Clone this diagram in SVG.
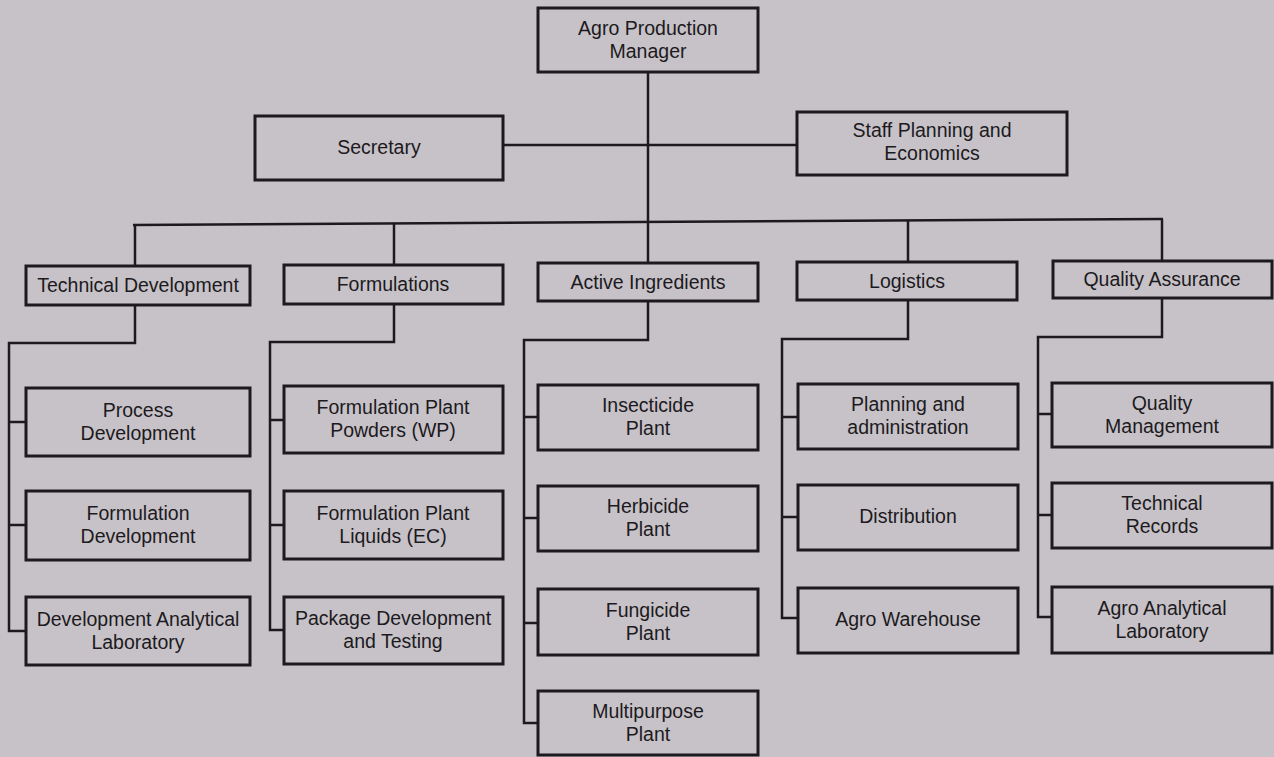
<svg xmlns="http://www.w3.org/2000/svg" width="1274" height="757" viewBox="0 0 1274 757">
<style>
.bg{fill:#c7c2c8}
.box{fill:none;stroke:#1c1a1d;stroke-width:3}
.ln{fill:none;stroke:#1c1a1d;stroke-width:2.5;stroke-linejoin:miter}
text{font-family:"Liberation Sans","Arial",sans-serif;font-size:19.5px;fill:#1c1a1d;text-anchor:middle}
</style>
<rect class="bg" x="0" y="0" width="1274" height="757"/>
<g id="connectors">
<path class="ln" d="M648,72 V263"/>
<path class="ln" d="M503,145 H797"/>
<path class="ln" d="M133,225 L1163,219"/>
<path class="ln" d="M135,225 V266"/>
<path class="ln" d="M394,223.5 V265"/>
<path class="ln" d="M908,220.5 V262"/>
<path class="ln" d="M1162,219 V261"/>
<path class="ln" d="M135,305 V343 H9 V631 H26 M9,422 H26 M9,525 H26"/>
<path class="ln" d="M394,304 V342 H270 V630 H284 M270,420 H284 M270,525 H284"/>
<path class="ln" d="M648,301 V340 H524 V723 H538 M524,417 H538 M524,518 H538 M524,623 H538"/>
<path class="ln" d="M908,300 V339 H782 V618 H798 M782,417 H798 M782,517 H798"/>
<path class="ln" d="M1162,298 V337 H1038 V617 H1052 M1038,414 H1052 M1038,515 H1052"/>
</g>
<g id="agro-production-manager"><rect class="box" x="538" y="8" width="220" height="64"/><text x="648" y="35">Agro Production</text><text x="648" y="58">Manager</text></g>
<g id="secretary"><rect class="box" x="255" y="116" width="248" height="64"/><text x="379" y="154">Secretary</text></g>
<g id="staff-planning"><rect class="box" x="797" y="112" width="270" height="63"/><text x="932" y="137">Staff Planning and</text><text x="932" y="160">Economics</text></g>
<g id="technical-development"><rect class="box" x="26" y="266" width="224" height="39"/><text x="138" y="292">Technical Development</text></g>
<g id="formulations"><rect class="box" x="284" y="265" width="219" height="39"/><text x="393" y="291">Formulations</text></g>
<g id="active-ingredients"><rect class="box" x="538" y="263" width="220" height="38"/><text x="648" y="289">Active Ingredients</text></g>
<g id="logistics"><rect class="box" x="797" y="262" width="220" height="38"/><text x="907" y="288">Logistics</text></g>
<g id="quality-assurance"><rect class="box" x="1053" y="261" width="219" height="37"/><text x="1162" y="286">Quality Assurance</text></g>
<g id="process-development"><rect class="box" x="26" y="388" width="224" height="68"/><text x="138" y="417">Process</text><text x="138" y="440">Development</text></g>
<g id="formulation-development"><rect class="box" x="26" y="491" width="224" height="69"/><text x="138" y="520">Formulation</text><text x="138" y="543">Development</text></g>
<g id="development-analytical-laboratory"><rect class="box" x="26" y="597" width="224" height="68"/><text x="138" y="626">Development Analytical</text><text x="138" y="649">Laboratory</text></g>
<g id="formulation-plant-powders"><rect class="box" x="284" y="386" width="219" height="67"/><text x="393" y="414">Formulation Plant</text><text x="393" y="437">Powders (WP)</text></g>
<g id="formulation-plant-liquids"><rect class="box" x="284" y="491" width="219" height="68"/><text x="393" y="520">Formulation Plant</text><text x="393" y="543">Liquids (EC)</text></g>
<g id="package-development"><rect class="box" x="284" y="597" width="219" height="67"/><text x="393" y="625">Package Development</text><text x="393" y="648">and Testing</text></g>
<g id="insecticide-plant"><rect class="box" x="538" y="385" width="220" height="65"/><text x="648" y="412">Insecticide</text><text x="648" y="435">Plant</text></g>
<g id="herbicide-plant"><rect class="box" x="538" y="486" width="220" height="65"/><text x="648" y="513">Herbicide</text><text x="648" y="536">Plant</text></g>
<g id="fungicide-plant"><rect class="box" x="538" y="589" width="220" height="66"/><text x="648" y="617">Fungicide</text><text x="648" y="640">Plant</text></g>
<g id="multipurpose-plant"><rect class="box" x="538" y="691" width="220" height="64"/><text x="648" y="718">Multipurpose</text><text x="648" y="741">Plant</text></g>
<g id="planning-administration"><rect class="box" x="798" y="384" width="220" height="65"/><text x="908" y="411">Planning and</text><text x="908" y="434">administration</text></g>
<g id="distribution"><rect class="box" x="798" y="485" width="220" height="65"/><text x="908" y="523">Distribution</text></g>
<g id="agro-warehouse"><rect class="box" x="798" y="588" width="220" height="65"/><text x="908" y="626">Agro Warehouse</text></g>
<g id="quality-management"><rect class="box" x="1052" y="383" width="220" height="64"/><text x="1162" y="410">Quality</text><text x="1162" y="433">Management</text></g>
<g id="technical-records"><rect class="box" x="1052" y="483" width="220" height="65"/><text x="1162" y="510">Technical</text><text x="1162" y="533">Records</text></g>
<g id="agro-analytical-laboratory"><rect class="box" x="1052" y="587" width="220" height="66"/><text x="1162" y="615">Agro Analytical</text><text x="1162" y="638">Laboratory</text></g>
</svg>
